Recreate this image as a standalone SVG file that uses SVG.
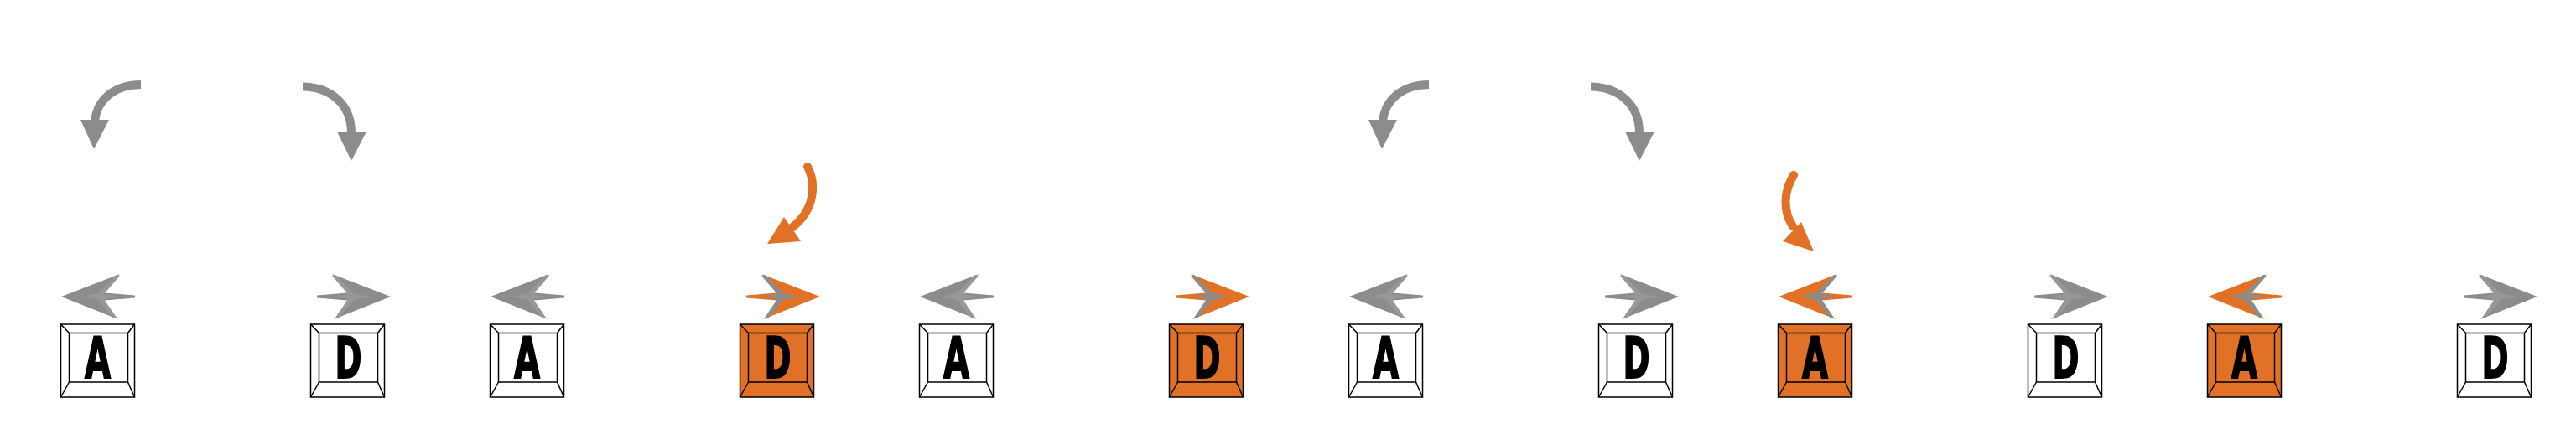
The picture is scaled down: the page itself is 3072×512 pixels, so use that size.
<svg xmlns="http://www.w3.org/2000/svg" xmlns:xlink="http://www.w3.org/1999/xlink" width="3072" height="512" viewBox="0 0 3072 512">
<style>
.kw{fill:#ffffff}
.ko{fill:#e07127}
.bv{fill:none;stroke:#000;stroke-width:1.5}
.lt{font-family:"DejaVu Sans","Liberation Sans",sans-serif;font-weight:bold;font-size:68px;fill:#000;stroke:#000;stroke-width:2;text-anchor:middle}
.cg{fill:none;stroke:#8c8c8c;stroke-width:10}
.co{fill:none;stroke:#e07127;stroke-width:10;stroke-linecap:round}
.hg{fill:#8c8c8c}
.ho{fill:#e07127}
</style>
<defs>
<g id="bevel">
<rect x="0" y="0" width="88" height="87"/>
<rect x="10" y="10.5" width="70" height="58.5"/>
<line x1="0" y1="0" x2="10" y2="10.5"/>
<line x1="88" y1="0" x2="80" y2="10.5"/>
<line x1="0" y1="87" x2="10" y2="69"/>
<line x1="88" y1="87" x2="80" y2="69"/>
</g>
<polygon id="arOut" points="73,354 143,327 119,349 161,352.5 161,355.5 119,359 141,381"/>
<polygon id="arIn" points="98,354 117,350 139,328 143,329 124,351 137,353 137,355 124,357 139,379 135,380 117,358"/>
<g id="curveL">
<path d="M168,101 C140,101 116,116 113,145"/>
</g>
<g id="curveR">
<path d="M361,103.5 C395,104 419,125 419,159"/>
</g>
</defs>

<g id="connectors">
<g id="f0-curves">
<use href="#curveL" class="cg"/>
<polygon class="hg" points="96,143 130,143 112,178"/>
<use href="#curveR" class="cg"/>
<polygon class="hg" points="402,157 437,157 419,192"/>
</g>
<g id="f3-curves" transform="translate(1536,0)">
<use href="#curveL" class="cg"/>
<polygon class="hg" points="96,143 130,143 112,178"/>
<use href="#curveR" class="cg"/>
<polygon class="hg" points="402,157 437,157 419,192"/>
</g>
<g id="f1-curve">
<path class="co" d="M963,199 C973,218 973,250 944,272"/>
<polygon class="ho" points="915,291 935,259 955,288"/>
</g>
<g id="f4-curve">
<path class="co" d="M2139,209 C2127,228 2126,252 2138,270"/>
<polygon class="ho" points="2148,265 2126,288 2163,300"/>
</g>

<g id="f0-arrows">
<use href="#arOut" fill="#8c8c8c"/><use href="#arIn" fill="#979797"/>
<g transform="translate(539,0) scale(-1,1)"><use href="#arOut" fill="#8c8c8c"/><use href="#arIn" fill="#979797"/></g>
</g>
<g id="f1-arrows" transform="translate(512,0)">
<use href="#arOut" fill="#8c8c8c"/><use href="#arIn" fill="#979797"/>
<g transform="translate(539,0) scale(-1,1)"><use href="#arOut" fill="#e07127"/><use href="#arIn" fill="#8c8c8c"/></g>
</g>
<g id="f2-arrows" transform="translate(1024,0)">
<use href="#arOut" fill="#8c8c8c"/><use href="#arIn" fill="#979797"/>
<g transform="translate(539,0) scale(-1,1)"><use href="#arOut" fill="#e07127"/><use href="#arIn" fill="#8c8c8c"/></g>
</g>
<g id="f3-arrows" transform="translate(1536,0)">
<use href="#arOut" fill="#8c8c8c"/><use href="#arIn" fill="#979797"/>
<g transform="translate(539,0) scale(-1,1)"><use href="#arOut" fill="#8c8c8c"/><use href="#arIn" fill="#979797"/></g>
</g>
<g id="f4-arrows" transform="translate(2048,0)">
<use href="#arOut" fill="#e07127"/><use href="#arIn" fill="#8c8c8c"/>
<g transform="translate(539,0) scale(-1,1)"><use href="#arOut" fill="#8c8c8c"/><use href="#arIn" fill="#979797"/></g>
</g>
<g id="f5-arrows" transform="translate(2560,0)">
<use href="#arOut" fill="#e07127"/><use href="#arIn" fill="#8c8c8c"/>
<g transform="translate(539,0) scale(-1,1)"><use href="#arOut" fill="#8c8c8c"/><use href="#arIn" fill="#979797"/></g>
</g>
</g>

<g id="f0-keyA" transform="translate(72.5,387)"><rect class="kw" width="88" height="87"/><use href="#bevel" class="bv"/><text class="lt" x="44" y="64" textLength="31" lengthAdjust="spacingAndGlyphs">A</text></g>
<g id="f0-keyD" transform="translate(370.5,387)"><rect class="kw" width="88" height="87"/><use href="#bevel" class="bv"/><text class="lt" x="45" y="64" textLength="32" lengthAdjust="spacingAndGlyphs">D</text></g>

<g id="f1-keyA" transform="translate(584.5,387)"><rect class="kw" width="88" height="87"/><use href="#bevel" class="bv"/><text class="lt" x="44" y="64" textLength="31" lengthAdjust="spacingAndGlyphs">A</text></g>
<g id="f1-keyD" transform="translate(882.5,387)"><rect class="ko" width="88" height="87"/><use href="#bevel" class="bv"/><text class="lt" x="45" y="64" textLength="32" lengthAdjust="spacingAndGlyphs">D</text></g>

<g id="f2-keyA" transform="translate(1096.5,387)"><rect class="kw" width="88" height="87"/><use href="#bevel" class="bv"/><text class="lt" x="44" y="64" textLength="31" lengthAdjust="spacingAndGlyphs">A</text></g>
<g id="f2-keyD" transform="translate(1394.5,387)"><rect class="ko" width="88" height="87"/><use href="#bevel" class="bv"/><text class="lt" x="45" y="64" textLength="32" lengthAdjust="spacingAndGlyphs">D</text></g>

<g id="f3-keyA" transform="translate(1608.5,387)"><rect class="kw" width="88" height="87"/><use href="#bevel" class="bv"/><text class="lt" x="44" y="64" textLength="31" lengthAdjust="spacingAndGlyphs">A</text></g>
<g id="f3-keyD" transform="translate(1906.5,387)"><rect class="kw" width="88" height="87"/><use href="#bevel" class="bv"/><text class="lt" x="45" y="64" textLength="32" lengthAdjust="spacingAndGlyphs">D</text></g>

<g id="f4-keyA" transform="translate(2120.5,387)"><rect class="ko" width="88" height="87"/><use href="#bevel" class="bv"/><text class="lt" x="44" y="64" textLength="31" lengthAdjust="spacingAndGlyphs">A</text></g>
<g id="f4-keyD" transform="translate(2418.5,387)"><rect class="kw" width="88" height="87"/><use href="#bevel" class="bv"/><text class="lt" x="45" y="64" textLength="32" lengthAdjust="spacingAndGlyphs">D</text></g>

<g id="f5-keyA" transform="translate(2632.5,387)"><rect class="ko" width="88" height="87"/><use href="#bevel" class="bv"/><text class="lt" x="44" y="64" textLength="31" lengthAdjust="spacingAndGlyphs">A</text></g>
<g id="f5-keyD" transform="translate(2930.5,387)"><rect class="kw" width="88" height="87"/><use href="#bevel" class="bv"/><text class="lt" x="45" y="64" textLength="32" lengthAdjust="spacingAndGlyphs">D</text></g>
</svg>
